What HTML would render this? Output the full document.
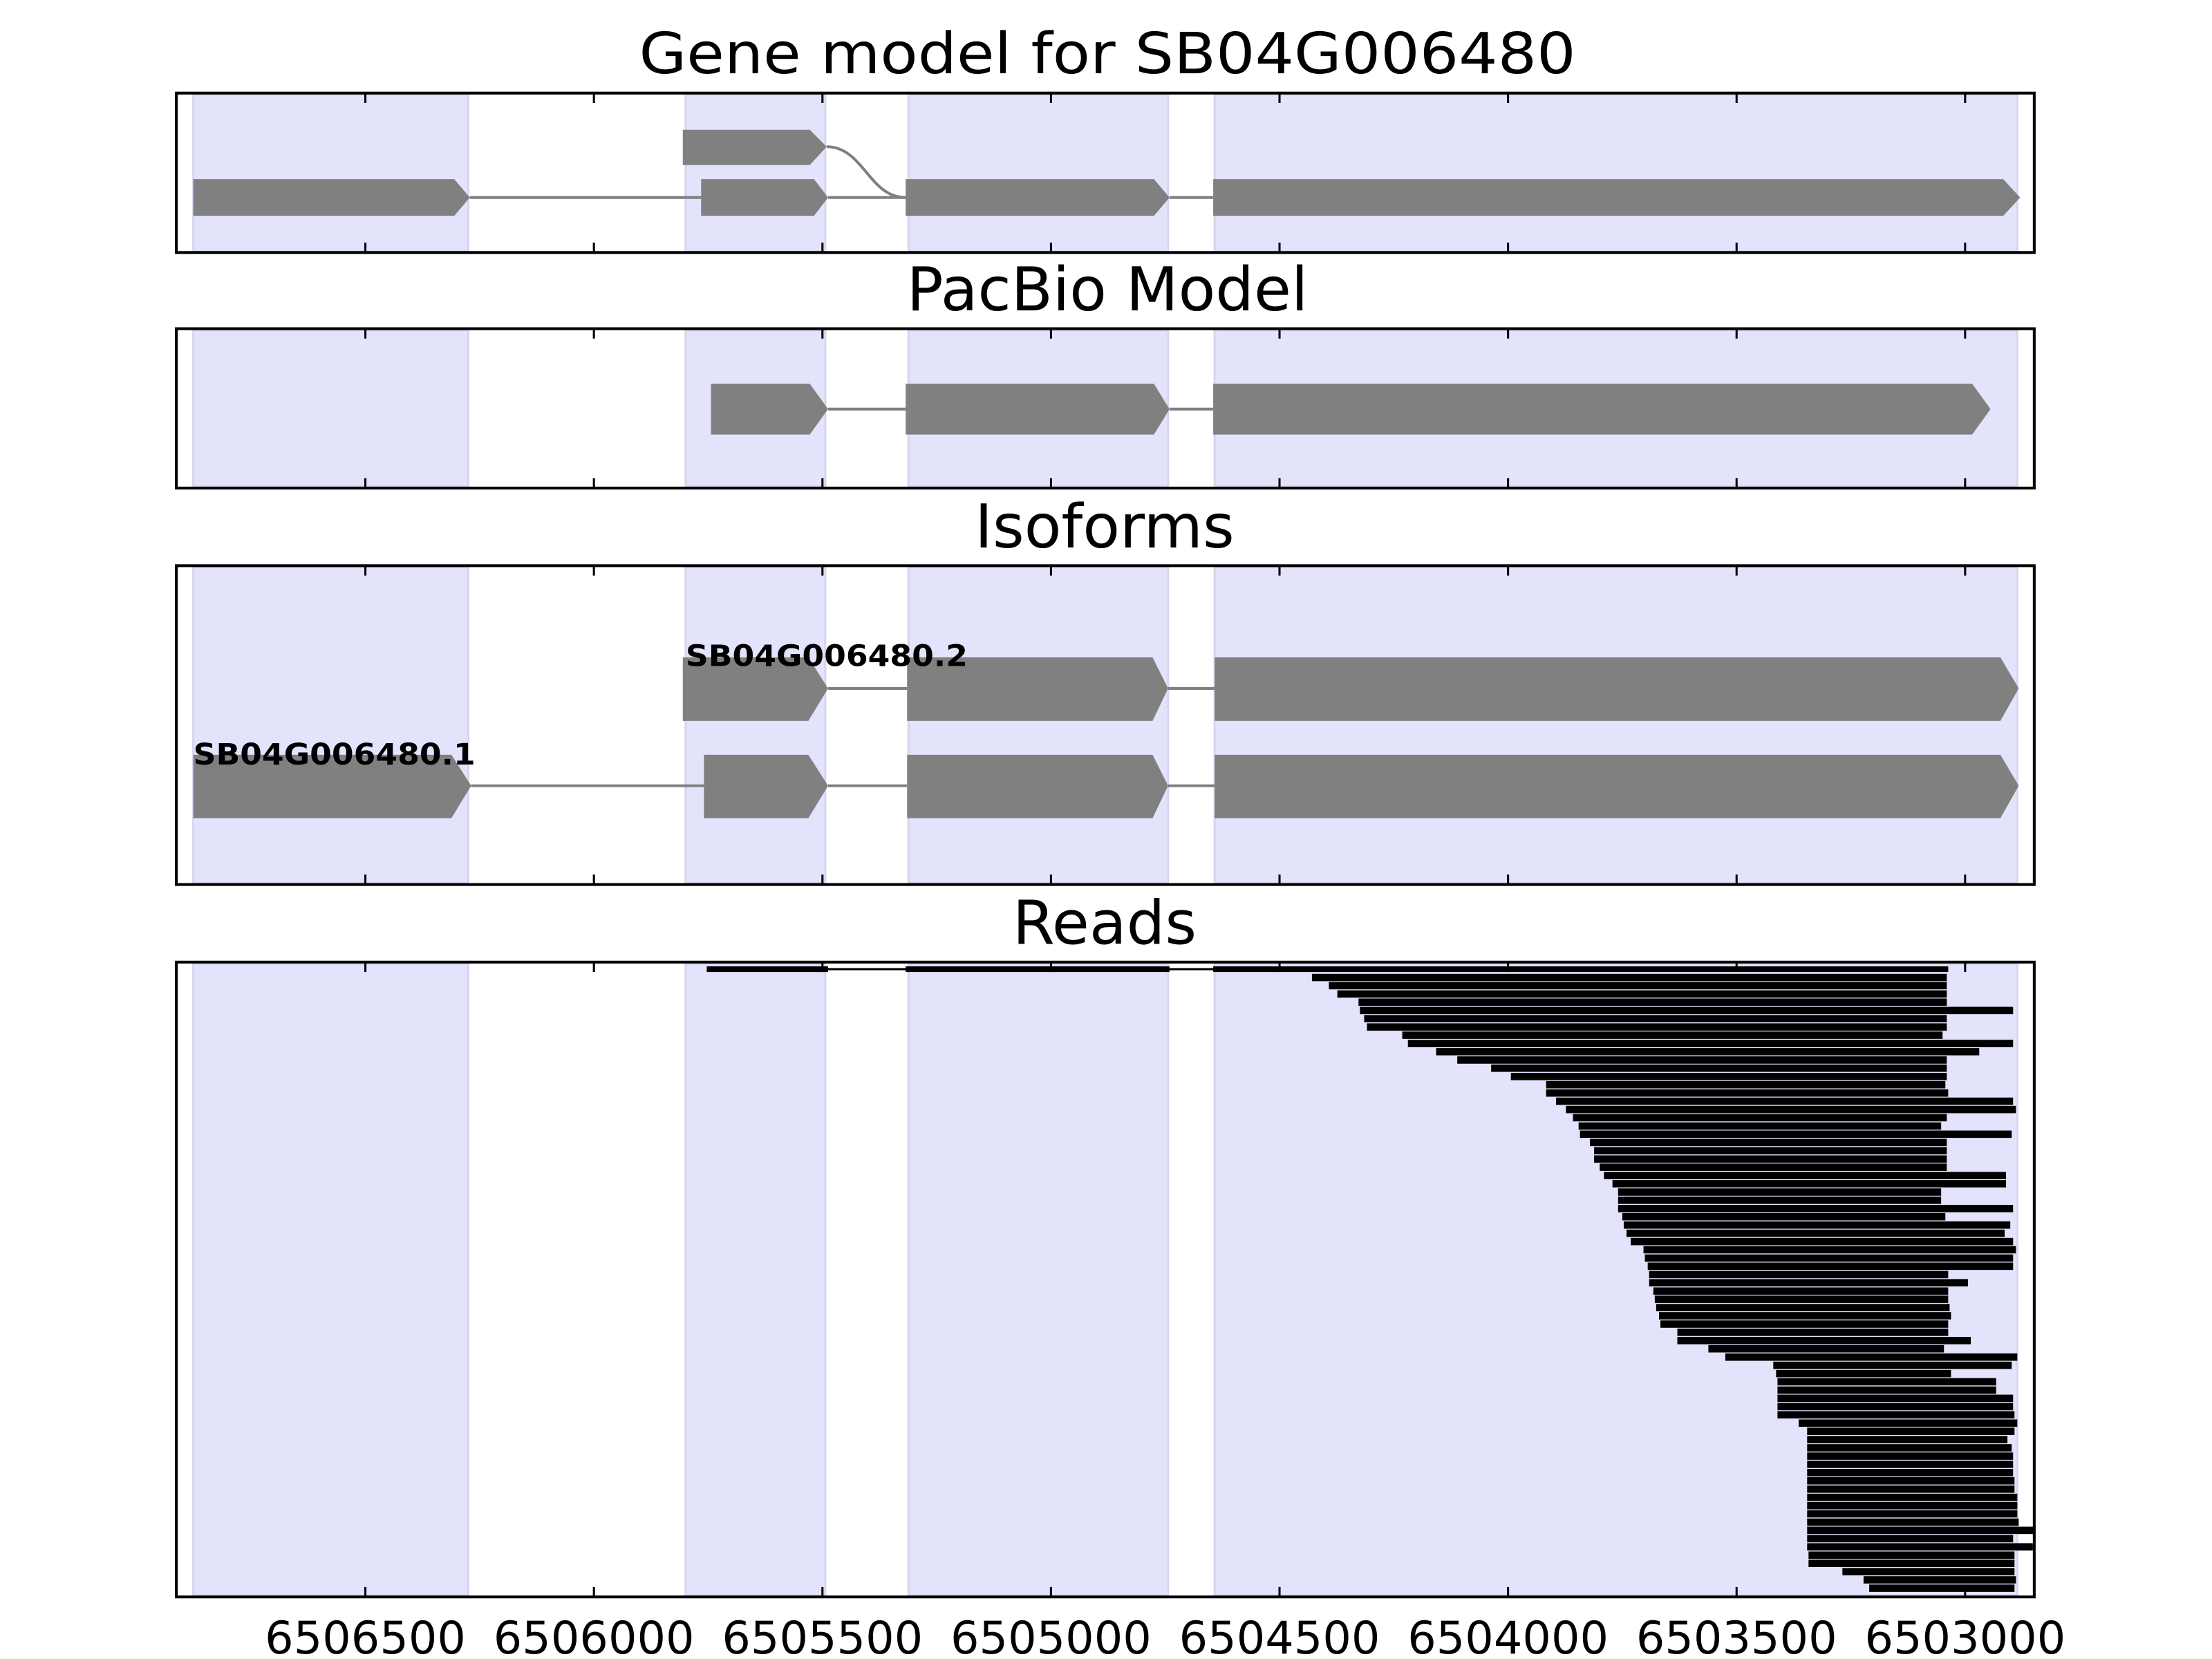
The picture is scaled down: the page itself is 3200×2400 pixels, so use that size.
<!DOCTYPE html>
<html><head><meta charset="utf-8"><style>
html,body{margin:0;padding:0;background:#fff}
svg{display:block}
text{font-family:"DejaVu Sans","Liberation Sans",sans-serif;fill:#000}
</style></head><body>
<svg width="3200" height="2400" viewBox="0 0 1568 1176" xmlns="http://www.w3.org/2000/svg">
<text x="785" y="52" font-size="40" text-anchor="middle" textLength="664" lengthAdjust="spacingAndGlyphs">Gene model for SB04G006480</text>
<text x="785" y="220" font-size="43" text-anchor="middle">PacBio Model</text>
<text x="783" y="388" font-size="43" text-anchor="middle">Isoforms</text>
<text x="783" y="669" font-size="43" text-anchor="middle">Reads</text>

<g fill="#e3e3fc" stroke="#d6d6ee" stroke-width="1.5">
<rect x="137" y="67" width="195" height="111"/><rect x="486" y="67" width="99" height="111"/><rect x="644" y="67" width="184" height="111"/><rect x="861" y="67" width="569" height="111"/>
<rect x="137" y="234" width="195" height="111"/><rect x="486" y="234" width="99" height="111"/><rect x="644" y="234" width="184" height="111"/><rect x="861" y="234" width="569" height="111"/>
<rect x="137" y="402" width="195" height="224"/><rect x="486" y="402" width="99" height="224"/><rect x="644" y="402" width="184" height="224"/><rect x="861" y="402" width="569" height="224"/>
<rect x="137" y="683" width="195" height="448"/><rect x="486" y="683" width="99" height="448"/><rect x="644" y="683" width="184" height="448"/><rect x="861" y="683" width="569" height="448"/>
</g>

<g stroke="#808080" stroke-width="2" fill="none">
<line x1="333" y1="140" x2="497" y2="140"/><line x1="587" y1="140" x2="642" y2="140"/><line x1="829" y1="140" x2="860" y2="140"/>
<path d="M586,104 C612,104 616,140 642,140"/>
<line x1="587" y1="290" x2="642" y2="290"/><line x1="829" y1="290" x2="860" y2="290"/>
<line x1="587" y1="488" x2="643" y2="488"/><line x1="828" y1="488" x2="861" y2="488"/>
<line x1="334" y1="557" x2="499" y2="557"/><line x1="587" y1="557" x2="643" y2="557"/><line x1="828" y1="557" x2="861" y2="557"/>
</g>
<g fill="#808080">
<polygon points="137,127 322,127 333,140 322,153 137,153"/>
<polygon points="497,127 577,127 587,140 577,153 497,153"/>
<polygon points="642,127 818,127 829,140 818,153 642,153"/>
<polygon points="860,127 1420,127 1432,140 1420,153 860,153"/>
<polygon points="484,92 574,92 586,104 574,117 484,117"/>
<polygon points="504,272 574,272 587,290 574,308 504,308"/>
<polygon points="642,272 818,272 829,290 818,308 642,308"/>
<polygon points="860,272 1398,272 1411,290 1398,308 860,308"/>
<polygon points="484,466 573,466 587,488 573,511 484,511"/>
<polygon points="643,466 817,466 828,488 817,511 643,511"/>
<polygon points="861,466 1418,466 1431,488 1418,511 861,511"/>
<polygon points="137,535 320,535 334,557 320,580 137,580"/>
<polygon points="499,535 573,535 587,557 573,580 499,580"/>
<polygon points="643,535 817,535 828,557 817,580 643,580"/>
<polygon points="861,535 1418,535 1431,557 1418,580 861,580"/>
</g>
<text x="486" y="472" font-size="21" font-weight="bold" textLength="200" lengthAdjust="spacingAndGlyphs">SB04G006480.2</text>
<text x="137" y="542" font-size="21" font-weight="bold" textLength="200" lengthAdjust="spacingAndGlyphs">SB04G006480.1</text>

<g fill="#000">
<line x1="501" y1="687" x2="1381" y2="687" stroke="#000" stroke-width="1.5"/>
<rect x="501" y="685" width="86" height="4"/><rect x="642" y="685" width="187" height="4"/><rect x="860" y="685" width="521" height="4"/>
<rect x="930" y="690.3" width="450" height="5.2"/>
<rect x="942" y="696.1" width="438" height="5.2"/>
<rect x="948" y="702" width="432" height="5.2"/>
<rect x="963" y="707.8" width="417" height="5.2"/>
<rect x="964" y="713.7" width="463" height="5.2"/>
<rect x="967" y="719.5" width="413" height="5.2"/>
<rect x="969" y="725.4" width="411" height="5.2"/>
<rect x="994" y="731.2" width="383" height="5.2"/>
<rect x="998" y="737.1" width="429" height="5.2"/>
<rect x="1018" y="742.9" width="385" height="5.2"/>
<rect x="1033" y="748.8" width="347" height="5.2"/>
<rect x="1057" y="754.6" width="323" height="5.2"/>
<rect x="1071" y="760.5" width="309" height="5.2"/>
<rect x="1096" y="766.3" width="283" height="5.2"/>
<rect x="1096" y="772.2" width="285" height="5.2"/>
<rect x="1103" y="778" width="324" height="5.2"/>
<rect x="1110" y="783.9" width="319" height="5.2"/>
<rect x="1115" y="789.7" width="265" height="5.2"/>
<rect x="1119" y="795.6" width="257" height="5.2"/>
<rect x="1120" y="801.4" width="306" height="5.2"/>
<rect x="1127" y="807.3" width="253" height="5.2"/>
<rect x="1130" y="813.1" width="250" height="5.2"/>
<rect x="1130" y="819" width="250" height="5.2"/>
<rect x="1134" y="824.8" width="246" height="5.2"/>
<rect x="1137" y="830.7" width="285" height="5.2"/>
<rect x="1143" y="836.5" width="279" height="5.2"/>
<rect x="1147" y="842.4" width="229" height="5.2"/>
<rect x="1147" y="848.2" width="229" height="5.2"/>
<rect x="1147" y="854.1" width="280" height="5.2"/>
<rect x="1150" y="859.9" width="229" height="5.2"/>
<rect x="1151" y="865.8" width="274" height="5.2"/>
<rect x="1153" y="871.6" width="268" height="5.2"/>
<rect x="1156" y="877.5" width="271" height="5.2"/>
<rect x="1165" y="883.3" width="264" height="5.2"/>
<rect x="1166" y="889.2" width="261" height="5.2"/>
<rect x="1168" y="895" width="259" height="5.2"/>
<rect x="1169" y="900.9" width="212" height="5.2"/>
<rect x="1169" y="906.7" width="226" height="5.2"/>
<rect x="1172" y="912.6" width="209" height="5.2"/>
<rect x="1173" y="918.4" width="208" height="5.2"/>
<rect x="1174" y="924.3" width="208" height="5.2"/>
<rect x="1176" y="930.1" width="207" height="5.2"/>
<rect x="1177" y="936" width="204" height="5.2"/>
<rect x="1189" y="941.8" width="192" height="5.2"/>
<rect x="1189" y="947.7" width="208" height="5.2"/>
<rect x="1211" y="953.5" width="167" height="5.2"/>
<rect x="1223" y="959.4" width="207" height="5.2"/>
<rect x="1257" y="965.2" width="169" height="5.2"/>
<rect x="1259" y="971.1" width="124" height="5.2"/>
<rect x="1260" y="976.9" width="155" height="5.2"/>
<rect x="1260" y="982.8" width="155" height="5.2"/>
<rect x="1260" y="988.6" width="167" height="5.2"/>
<rect x="1260" y="994.5" width="167" height="5.2"/>
<rect x="1260" y="1000.3" width="168" height="5.2"/>
<rect x="1275" y="1006.2" width="155" height="5.2"/>
<rect x="1281" y="1012" width="147" height="5.2"/>
<rect x="1281" y="1017.9" width="142" height="5.2"/>
<rect x="1281" y="1023.7" width="145" height="5.2"/>
<rect x="1281" y="1029.6" width="146" height="5.2"/>
<rect x="1281" y="1035.4" width="146" height="5.2"/>
<rect x="1281" y="1041.3" width="146" height="5.2"/>
<rect x="1281" y="1047.1" width="147" height="5.2"/>
<rect x="1281" y="1053" width="147" height="5.2"/>
<rect x="1281" y="1058.8" width="149" height="5.2"/>
<rect x="1281" y="1064.7" width="149" height="5.2"/>
<rect x="1281" y="1070.5" width="149" height="5.2"/>
<rect x="1281" y="1076.4" width="150" height="5.2"/>
<rect x="1281" y="1082.2" width="161" height="5.2"/>
<rect x="1281" y="1088.1" width="146" height="5.2"/>
<rect x="1281" y="1093.9" width="160" height="5.2"/>
<rect x="1282" y="1099.8" width="146" height="5.2"/>
<rect x="1282" y="1105.6" width="146" height="5.2"/>
<rect x="1306" y="1111.5" width="122" height="5.2"/>
<rect x="1321" y="1117.3" width="108" height="5.2"/>
<rect x="1325" y="1123.2" width="103" height="5.2"/>
</g>

<g fill="none" stroke="#000" stroke-width="2">
<rect x="125" y="66" width="1317" height="113"/>
<rect x="125" y="233" width="1317" height="113"/>
<rect x="125" y="401" width="1317" height="226"/>
<rect x="125" y="682" width="1317" height="450"/>
</g>
<g stroke="#000" stroke-width="1.5">
<path d="M259,66v7M421,66v7M583,66v7M745,66v7M907,66v7M1069,66v7M1231,66v7M1393,66v7
M259,179v-7M421,179v-7M583,179v-7M745,179v-7M907,179v-7M1069,179v-7M1231,179v-7M1393,179v-7
M259,233v7M421,233v7M583,233v7M745,233v7M907,233v7M1069,233v7M1231,233v7M1393,233v7
M259,346v-7M421,346v-7M583,346v-7M745,346v-7M907,346v-7M1069,346v-7M1231,346v-7M1393,346v-7
M259,401v7M421,401v7M583,401v7M745,401v7M907,401v7M1069,401v7M1231,401v7M1393,401v7
M259,627v-7M421,627v-7M583,627v-7M745,627v-7M907,627v-7M1069,627v-7M1231,627v-7M1393,627v-7
M259,682v7M421,682v7M583,682v7M745,682v7M907,682v7M1069,682v7M1231,682v7M1393,682v7
M259,1132v-7M421,1132v-7M583,1132v-7M745,1132v-7M907,1132v-7M1069,1132v-7M1231,1132v-7M1393,1132v-7"/>
</g>
<g font-size="32" text-anchor="middle">
<text x="259" y="1172">6506500</text>
<text x="421" y="1172">6506000</text>
<text x="583" y="1172">6505500</text>
<text x="745" y="1172">6505000</text>
<text x="907" y="1172">6504500</text>
<text x="1069" y="1172">6504000</text>
<text x="1231" y="1172">6503500</text>
<text x="1393" y="1172">6503000</text>
</g>
</svg>
</body></html>
